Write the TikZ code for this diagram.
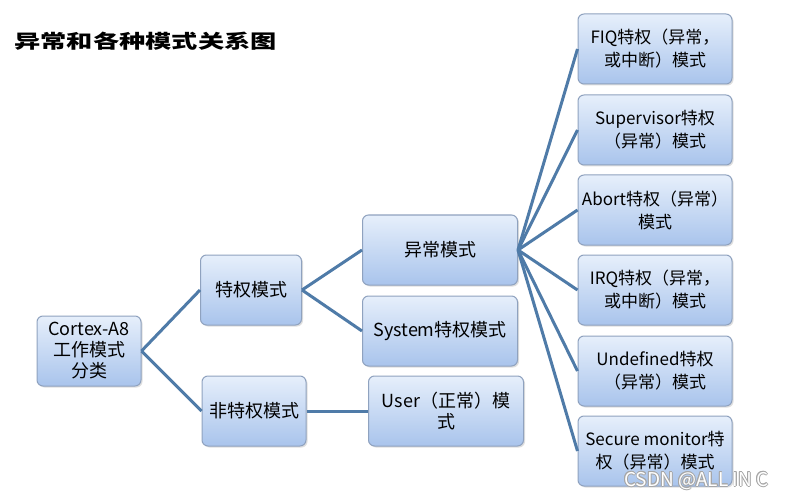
\documentclass[tikz,border=0pt]{standalone}
\usepackage{fontspec}
\usepackage{graphicx}
\setmainfont{Noto Sans CJK SC}
\newfontfamily\cjk{Noto Sans CJK SC}
\usetikzlibrary{shadows}
\definecolor{edgeblue}{HTML}{4F7BA8}
\definecolor{boxtop}{HTML}{E6EFFB}
\definecolor{boxbot}{HTML}{A9C4EC}
\definecolor{boxline}{HTML}{8FA2BF}
\tikzset{
  modebox/.style={draw=boxline, line width=1pt, rounded corners=6pt,
    top color=boxtop, bottom color=boxbot, align=center, inner sep=0pt,
    drop shadow={opacity=0.25, shadow xshift=1.5pt, shadow yshift=-1.5pt}},
  midbox/.style={modebox, minimum width=101pt, minimum height=70pt,
    font=\fontsize{18}{21}\selectfont},
  widebox/.style={modebox, minimum width=155pt, minimum height=70pt,
    font=\fontsize{18}{21}\selectfont},
  rightbox/.style={modebox, minimum width=154pt, minimum height=70pt,
    font=\fontsize{17}{23}\selectfont},
  conn/.style={draw=edgeblue, line width=3pt},
  wmark/.style={anchor=east, font=\fontsize{19}{19}\selectfont}
}
\begin{document}
\begin{tikzpicture}[x=1pt,y=-1pt]
\useasboundingbox[fill=white] (0,0) rectangle (785,500);
\node[anchor=west, font=\fontsize{19}{19}\selectfont\bfseries] (title) at (11,41)
  {\scalebox{1.38}[1]{异常和各种模式关系图}};
\node[midbox, minimum width=104pt] (cortex) at (89,351) {Cortex-A8\\工作模式\\分类};
\node[midbox] (priv) at (251,290) {特权模式};
\node[midbox, minimum width=104pt] (unpriv) at (254,411) {非特权模式};
\node[widebox] (exc) at (440,250) {异常模式};
\node[widebox] (sys) at (440,331) {System特权模式};
\node[widebox] (user) at (446,411) {User（正常）模\\式};
\node[rightbox] (fiq) at (655,49) {FIQ特权（异常，\\或中断）模式};
\node[rightbox] (svc) at (655,130) {Supervisor特权\\（异常）模式};
\node[rightbox] (abt) at (655,210) {Abort特权（异常）\\模式};
\node[rightbox] (irq) at (655,290) {IRQ特权（异常，\\或中断）模式};
\node[rightbox] (und) at (655,371) {Undefined特权\\（异常）模式};
\node[rightbox] (mon) at (655,451) {Secure monitor特\\权（异常）模式};
\draw[conn] (cortex.east) -- (priv.west);
\draw[conn] (cortex.east) -- (unpriv.west);
\draw[conn] (priv.east) -- (exc.west);
\draw[conn] (priv.east) -- (sys.west);
\draw[conn] (unpriv.east) -- (user.west);
\foreach \t in {fiq,svc,abt,irq,und,mon}
  \draw[conn] (exc.east) -- (\t.west);
\foreach \dx/\dy [count=\i] in {-0.7/0,0.7/0,0/-0.7,0/0.7,-0.5/-0.5,0.5/0.5,-0.5/0.5,0.5/-0.5}
  \node[wmark, text=gray!70] (markshade\i) at (772+\dx,481+\dy) {CSDN @ALL IN C};
\node[wmark, text=white] (mark) at (772,481) {CSDN @ALL IN C};
\end{tikzpicture}
\end{document}
